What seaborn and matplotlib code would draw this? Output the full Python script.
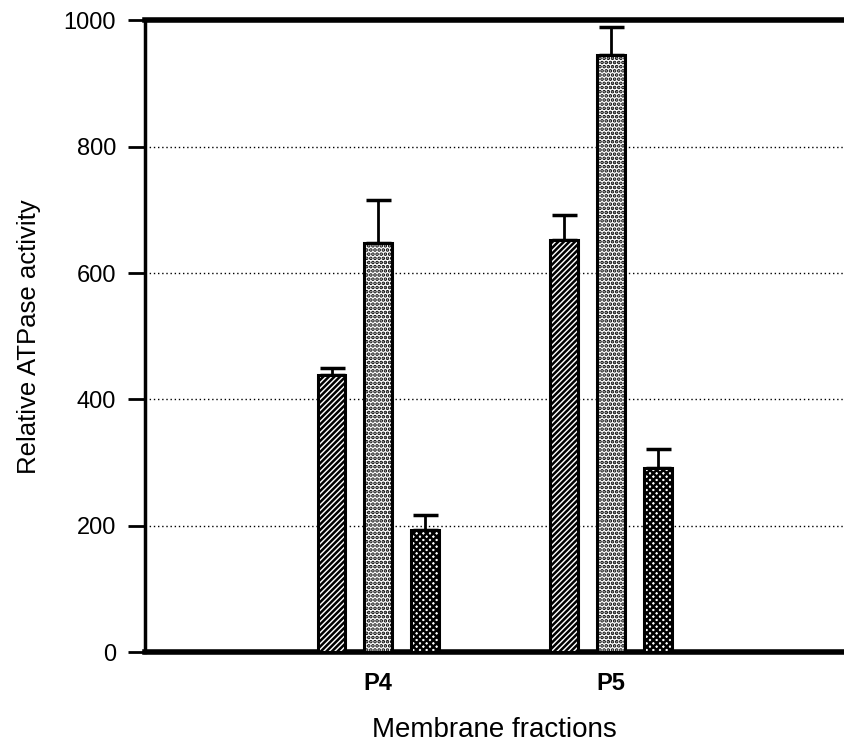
import pandas as pd
import matplotlib
matplotlib.use("Agg")
import matplotlib.pyplot as plt
import seaborn as sns

# ==========================
# DATA
# ==========================

fractions = ["P4", "P5"]
treatments = ["A", "B", "C"]
activity_p4 = [438, 647, 193]
activity_p5 = [652, 945, 291]
error_p4 = [11, 68, 24]
error_p5 = [40, 44, 30]

rows = []
for t, v, e in zip(treatments, activity_p4, error_p4):
    rows.append({"Fraction": "P4", "Treatment": t, "Activity": v, "Err": e})
for t, v, e in zip(treatments, activity_p5, error_p5):
    rows.append({"Fraction": "P5", "Treatment": t, "Activity": v, "Err": e})
df = pd.DataFrame(rows)

# ==========================
# PLOT
# ==========================

sns.set_style("white")
plt.rcParams["font.family"] = ["Liberation Sans", "DejaVu Sans"]
plt.rcParams["hatch.linewidth"] = 1.8
plt.rcParams["text.color"] = "black"
plt.rcParams["axes.labelcolor"] = "black"
plt.rcParams["xtick.color"] = "black"
plt.rcParams["ytick.color"] = "black"
plt.rcParams["axes.edgecolor"] = "black"

fig = plt.figure(figsize=(8.44, 7.48), dpi=100)
ax = fig.add_axes([0.172, 0.128, 0.828, 0.845])

sns.barplot(
    data=df, x="Fraction", y="Activity", hue="Treatment",
    order=fractions, hue_order=treatments,
    width=0.6, gap=0.4, errorbar=None,
    palette=["white", "white", "white"],
    edgecolor="black", linewidth=2.2, legend=False, ax=ax, zorder=3
)

hatches = {"A": "//////", "B": "....", "C": "xxxxx"}
for cont, t in zip(ax.containers, treatments):
    sub = df[df["Treatment"] == t].set_index("Fraction").loc[fractions]
    xs = []
    for bar in cont:
        bar.set_hatch(hatches[t])
        xs.append(bar.get_x() + bar.get_width() / 2)
    ax.errorbar(xs, sub["Activity"], yerr=[[0] * len(xs), sub["Err"]],
                fmt="none", ecolor="black", elinewidth=2, capsize=9,
                capthick=2.5, zorder=2)

ax.set_xlim(-1, 2)
ax.set_ylim(0, 1000)
ax.set_yticks([0, 200, 400, 600, 800, 1000])
ax.set_xticks(range(len(fractions)), fractions, fontsize=17, fontweight="bold")
for g in [200, 400, 600, 800]:
    ax.axhline(g, color="black", linestyle=(0, (1, 2)), linewidth=1, zorder=1)

ax.spines["right"].set_visible(False)
ax.spines["left"].set_linewidth(2.5)
ax.spines["bottom"].set_linewidth(4)
ax.spines["top"].set_linewidth(4)

ax.tick_params(axis="y", direction="out", length=12, width=2, labelsize=17, pad=9, left=True)
ax.tick_params(axis="x", length=0, pad=14)

ax.set_ylabel("Relative ATPase activity", fontsize=18.5, labelpad=16)
ax.set_xlabel("Membrane fractions", fontsize=20, labelpad=16)

plt.savefig("out.png", dpi=100)
